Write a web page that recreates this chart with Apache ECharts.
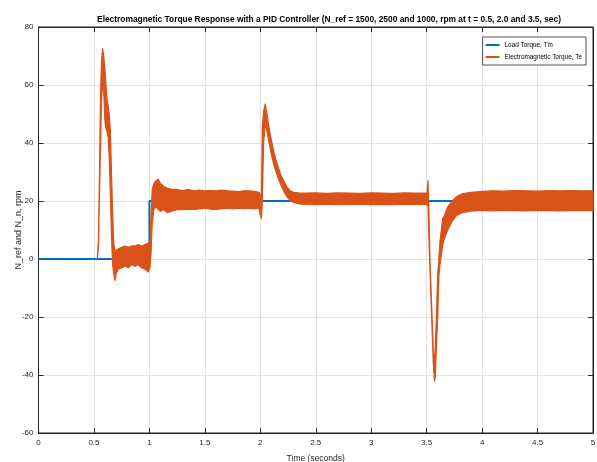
<!DOCTYPE html>
<html>
<head>
<meta charset="utf-8">
<script src="https://cdn.jsdelivr.net/npm/echarts@6/dist/echarts.min.js"></script>
<style>
  html, body { margin: 0; padding: 0; background: #fff; }
  #chart { width: 597px; height: 462px; }
</style>
</head>
<body>
<div id="chart"></div>
<script>
// Load torque reference (step from 0 to 20 at t = 1 s)
const loadTime = [0, 1.0, 1.0, 5.0];
const loadTorque = [0, 0, 20, 20];

// Electromagnetic torque: ripple envelope (upper / lower) vs time
const teTime = [
  0.530, 0.540, 0.550, 0.560, 0.568, 0.578, 0.588, 0.598, 0.608, 0.618,
  0.628, 0.638, 0.648, 0.658, 0.668, 0.678, 0.690, 0.700, 0.720, 0.750,
  0.780, 0.810, 0.840, 0.870, 0.900, 0.930, 0.960, 0.990, 1.005, 1.015,
  1.025, 1.040, 1.060, 1.080, 1.100, 1.130, 1.160, 1.200, 1.250, 1.300,
  1.350, 1.400, 1.450, 1.500, 1.550, 1.600, 1.650, 1.700, 1.750, 1.800,
  1.850, 1.900, 1.950, 1.990, 2.000, 2.010, 2.018, 2.030, 2.045, 2.060,
  2.080, 2.100, 2.125, 2.150, 2.180, 2.210, 2.240, 2.270, 2.300, 2.350,
  2.400, 2.500, 2.600, 2.700, 2.800, 2.900, 3.000, 3.100, 3.200, 3.300,
  3.400, 3.500, 3.505, 3.512, 3.518, 3.530, 3.547, 3.560, 3.570, 3.578,
  3.588, 3.600, 3.610, 3.620, 3.645, 3.660, 3.690, 3.730, 3.770, 3.820,
  3.900, 4.000, 4.100, 4.200, 4.300, 4.400, 4.500, 4.600, 4.700, 4.800,
  4.900, 5.000
];
const teUpper = [
  0.0, 6.0, 30.0, 58.0, 68.0, 72.5, 70.0, 66.0, 60.0, 55.0,
  53.0, 50.0, 44.0, 30.0, 16.0, 6.0, 2.0, 3.0, 3.5, 4.0,
  4.5, 4.0, 4.5, 4.5, 5.0, 4.5, 5.0, 5.5, 6.0, 15.0,
  24.0, 26.0, 27.0, 27.5, 26.0, 25.0, 24.5, 24.0, 24.0, 23.5,
  24.0, 23.5, 23.8, 23.5, 23.6, 23.5, 23.8, 23.5, 23.4, 23.2,
  23.5, 23.5, 23.3, 23.0, 22.0, 21.0, 45.0, 51.0, 53.5, 50.0,
  45.0, 41.0, 36.5, 33.0, 29.5, 27.0, 25.0, 23.5, 23.0, 22.8,
  22.7, 22.8, 22.6, 22.8, 22.7, 22.6, 22.8, 22.7, 22.6, 22.8,
  22.7, 22.8, 23.0, 27.0, 20.0, 0.0, -18.0, -32.0, -36.0, -30.0,
  -20.0, -5.0, 0.0, 6.0, 14.0, 15.0, 18.0, 20.0, 21.5, 22.5,
  23.0, 23.3, 23.5, 23.4, 23.6, 23.5, 23.4, 23.6, 23.5, 23.6,
  23.5, 23.5
];
const teLower = [
  0.0, 4.0, 22.0, 40.0, 55.0, 60.0, 58.0, 48.0, 45.0, 44.0,
  42.0, 35.0, 22.0, 8.0, -2.0, -5.0, -7.5, -5.0, -3.5, -3.0,
  -2.5, -3.0, -2.0, -2.5, -2.0, -3.0, -3.5, -4.5, -3.0, 2.0,
  12.0, 17.0, 18.0, 17.0, 16.5, 17.0, 16.0, 16.5, 17.0, 17.0,
  17.2, 17.0, 17.3, 17.5, 17.2, 17.0, 17.4, 17.5, 17.3, 17.5,
  17.4, 17.5, 17.3, 17.5, 15.0, 14.0, 20.0, 40.0, 47.0, 44.0,
  40.0, 36.0, 32.0, 29.0, 26.0, 23.5, 21.5, 20.0, 19.5, 19.0,
  18.8, 18.7, 18.9, 18.7, 18.8, 18.9, 18.7, 18.8, 18.7, 18.9,
  18.8, 18.7, 18.5, 19.0, 10.0, -4.0, -22.0, -36.0, -42.0, -41.0,
  -30.0, -20.0, -6.0, -2.0, 5.0, 7.0, 10.0, 13.0, 15.0, 16.0,
  16.5, 16.8, 16.6, 16.8, 16.7, 16.6, 16.8, 16.7, 16.6, 16.8,
  16.7, 16.7
];

// Axis ticks
const xTicks = [0, 0.5, 1, 1.5, 2, 2.5, 3, 3.5, 4, 4.5, 5];
const yTicks = [-60, -40, -20, 0, 20, 40, 60, 80];

const BLUE = '#0072BD';
const ORANGE = '#D95319';
const FONT = "'Liberation Sans', Arial, sans-serif";

const chart = echarts.init(document.getElementById('chart'), null, { renderer: 'canvas' });

const tickStyle = { show: true, inside: true, length: 5, lineStyle: { color: '#262626', width: 1 } };
const gridLine = { show: true, lineStyle: { color: '#e3e3e3', width: 1 } };
const frameLine = { show: true, onZero: false, lineStyle: { color: '#262626', width: 1 } };

chart.setOption({
  animation: false,
  backgroundColor: '#ffffff',
  title: {
    text: 'Electromagnetic Torque Response with a PID Controller (N_ref = 1500, 2500 and 1000, rpm at t = 0.5, 2.0 and 3.5, sec)',
    left: 324, top: 11, textAlign: 'center',
    textStyle: { fontFamily: FONT, fontSize: 8.4, fontWeight: 'bold', color: '#000' }
  },
  legend: {
    orient: 'vertical',
    right: 11, top: 37,
    backgroundColor: '#fff',
    borderColor: '#262626', borderWidth: 0.8,
    padding: [5, 4, 5, 3],
    itemWidth: 14, itemHeight: 2, itemGap: 6,
    textStyle: { fontFamily: FONT, fontSize: 6.4, color: '#000' },
    data: [
      { name: 'Load Torque, Tm', icon: 'rect' },
      { name: 'Electromagnetic Torque, Te', icon: 'rect' }
    ]
  },
  grid: {
    left: 38.5, right: 4, top: 27, bottom: 29,
    outerBoundsMode: 'none', containLabel: false,
    show: true, borderColor: '#262626', borderWidth: 1, backgroundColor: '#fff'
  },
  xAxis: [{
    type: 'value', min: 0, max: 5, interval: 0.5,
    name: 'Time (seconds)', nameLocation: 'middle', nameGap: 21, nameMoveOverlap: false,
    nameTextStyle: { fontFamily: FONT, fontSize: 8.5, color: '#262626' },
    axisLine: frameLine,
    axisTick: tickStyle,
    axisLabel: { fontFamily: FONT, fontSize: 8, color: '#262626', margin: 6,
      formatter: v => (xTicks.indexOf(v) >= 0 ? String(v) : '') },
    splitLine: gridLine
  }, {
    type: 'value', min: 0, max: 5, interval: 0.5, position: 'top',
    axisLine: frameLine,
    axisTick: tickStyle, axisLabel: { show: false }, splitLine: { show: false }
  }],
  yAxis: [{
    type: 'value', min: -60, max: 80, interval: 20,
    name: 'N_ref and N_n, rpm', nameLocation: 'middle', nameGap: 15.5, nameMoveOverlap: false,
    nameTextStyle: { fontFamily: FONT, fontSize: 9, color: '#262626' },
    axisLine: frameLine,
    axisTick: tickStyle,
    axisLabel: { fontFamily: FONT, fontSize: 8, color: '#262626', margin: 5,
      formatter: v => (yTicks.indexOf(v) >= 0 ? String(v) : '') },
    splitLine: gridLine
  }, {
    type: 'value', min: -60, max: 80, interval: 20, position: 'right',
    axisLine: frameLine,
    axisTick: tickStyle, axisLabel: { show: false }, splitLine: { show: false }
  }],
  series: [
    {
      name: 'Load Torque, Tm',
      type: 'line',
      xAxisIndex: 0, yAxisIndex: 0,
      data: loadTime.map((t, i) => [t, loadTorque[i]]),
      showSymbol: false,
      lineStyle: { color: BLUE, width: 2 },
      itemStyle: { color: BLUE },
      z: 2
    },
    {
      name: 'Electromagnetic Torque, Te',
      type: 'custom',
      xAxisIndex: 0, yAxisIndex: 0,
      itemStyle: { color: ORANGE },
      clip: true,
      encode: { x: 0, y: [1, 2] },
      data: teTime.map((t, i) => [t, teLower[i], teUpper[i]]),
      renderItem: function (params, api) {
        if (params.dataIndex !== 0) return null;
        const pts = [];
        for (let i = 0; i < teTime.length; i++) pts.push(api.coord([teTime[i], teUpper[i]]));
        for (let i = teTime.length - 1; i >= 0; i--) pts.push(api.coord([teTime[i], teLower[i]]));
        return {
          type: 'polygon',
          shape: { points: pts },
          style: { fill: ORANGE, stroke: ORANGE, lineWidth: 1.2, lineJoin: 'round' }
        };
      },
      z: 3
    }
  ]
});
</script>
</body>
</html>
